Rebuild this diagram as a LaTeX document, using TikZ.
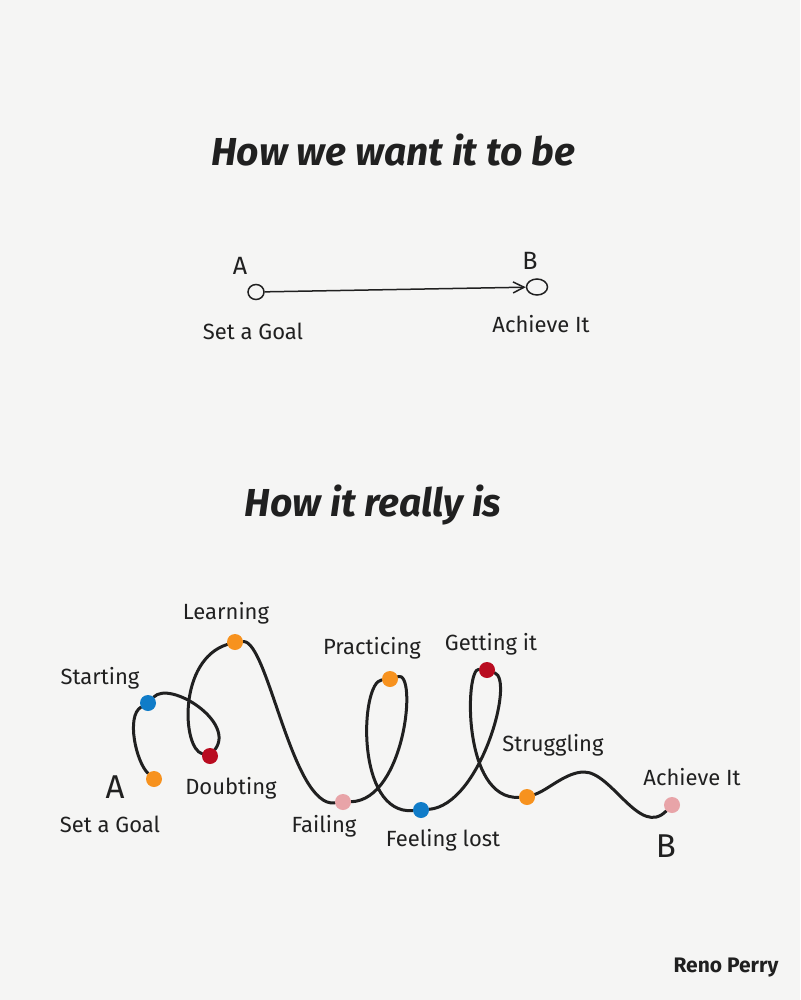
\documentclass[tikz,border=0pt]{standalone}
\usepackage{fontspec}
\setmainfont{Fira Sans}
\usetikzlibrary{shapes.geometric, arrows.meta, backgrounds}
\definecolor{cPaper}{RGB}{245,245,244}
\definecolor{cInk}{RGB}{32,32,32}
\definecolor{cOrange}{RGB}{247,146,30}
\definecolor{cBlue}{RGB}{16,124,200}
\definecolor{cRed}{RGB}{185,12,32}
\definecolor{cPink}{RGB}{232,164,168}
\tikzset{
	headline/.style ={font=\fontsize{39}{44}\selectfont\bfseries\itshape, text=cInk},
	lbl/.style      ={font=\fontsize{22}{26}\selectfont, text=cInk},
	smallletter/.style={font=\fontsize{25}{28}\selectfont, text=cInk},
	bigletter/.style={font=\fontsize{33}{36}\selectfont, text=cInk},
	ring/.style     ={ellipse, draw=cInk, line width=1.5pt, inner sep=0pt},
	milestone/.style={circle, minimum size=16pt, inner sep=0pt},
	wish/.style     ={-{Straight Barb[length=11pt, width=11pt]}, line width=1.5pt, draw=cInk},
	road/.style     ={line width=3pt, draw=cInk, line cap=round},
}
\begin{document}
\begin{tikzpicture}[x=1pt, y=-1pt]
	\useasboundingbox (0,0) rectangle (800,1000);
	% how we want it to be
	\node[headline] (want) at (393,150) {How we want it to be};
	\node[ring, minimum width=16pt, minimum height=15pt] (topA) at (256,292) {};
	\node[ring, minimum width=21pt, minimum height=16pt] (topB) at (537,287) {};
	\node[smallletter] (letA) at (240,266) {A};
	\node[smallletter] (letB) at (530,261) {B};
	\node[lbl] (goalTop) at (253,331) {Set a Goal};
	\node[lbl] (achTop) at (541,324) {Achieve It};
	\draw[wish] (topA) -- (topB);
	% how it really is
	\node[headline] (real) at (373,505) {How it really is};
	% milestones
	\node[milestone, fill=cOrange] (goal)  at (154,779) {};
	\node[milestone, fill=cBlue]   (start) at (148,703) {};
	\node[milestone, fill=cRed]    (doubt) at (210,756) {};
	\node[milestone, fill=cOrange] (learn) at (235,642) {};
	\node[milestone, fill=cPink]   (fail)  at (343,802) {};
	\node[milestone, fill=cOrange] (prac)  at (390,679) {};
	\node[milestone, fill=cBlue]   (lost)  at (421,810) {};
	\node[milestone, fill=cRed]    (get)   at (487,670) {};
	\node[milestone, fill=cOrange] (strug) at (527,797) {};
	\node[milestone, fill=cPink]   (ach)   at (672,805) {};
	\coordinate (bump) at (584,772);
	% the winding road
	\begin{scope}[on background layer]
		\fill[cPaper] (0,0) rectangle (800,1000);
		\draw[road] (goal) .. controls (136,762) and (126,716) .. (start)
			.. controls (170,680) and (236,722) .. (doubt)
			.. controls (182,748) and (178,660) .. (learn)
			.. controls (268,640) and (292,808) .. (fail)
			.. controls (405,800) and (418,670) .. (prac)
			.. controls (360,682) and (355,815) .. (lost)
			.. controls (480,805) and (515,680) .. (get)
			.. controls (465,668) and (462,800) .. (strug)
			.. controls (548,790) and (566,772) .. (bump)
			.. controls (612,772) and (640,838) .. (ach);
	\end{scope}
	% labels
	\node[lbl] (lStart) at (100,678) {Starting};
	\node[lbl] (lLearn) at (226,613) {Learning};
	\node[lbl] (lDoubt) at (231,788) {Doubting};
	\node[lbl] (lPrac)  at (372,648) {Practicing};
	\node[lbl] (lFail)  at (324,826) {Failing};
	\node[lbl] (lGet)   at (491,644) {Getting it};
	\node[lbl] (lLost)  at (443,840) {Feeling lost};
	\node[lbl] (lStrug) at (553,745) {Struggling};
	\node[lbl] (lAch)   at (692,777) {Achieve It};
	\node[lbl] (lGoal)  at (110,824) {Set a Goal};
	\node[bigletter] (botA) at (115,787) {A};
	\node[bigletter] (botB) at (666,846) {B};
	\node[font=\fontsize{21}{24}\selectfont\bfseries, text=cInk] (sign) at (726,968) {Reno Perry};
\end{tikzpicture}
\end{document}
